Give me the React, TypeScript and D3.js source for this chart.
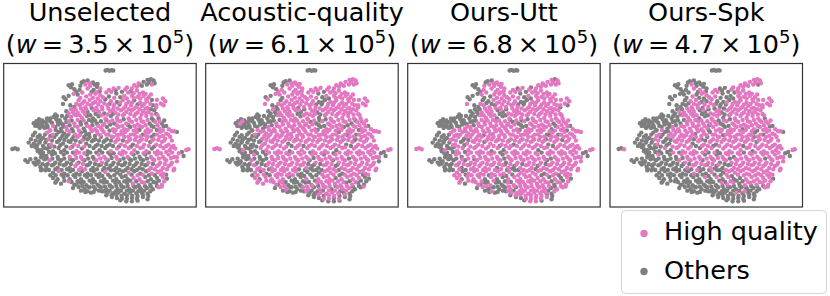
import * as d3 from "d3";

const titles = ["Unselected", "Acoustic-quality", "Ours-Utt", "Ours-Spk"];
const weights = ["3.5", "6.1", "6.8", "4.7"];
const legendLabels = ["High quality", "Others"];
const legendColors = ["#e377c2", "#7f7f7f"];

// t-SNE cloud, one list per band going down the panel
const cloudRows: number[][][] = [
  [[316,46],[322,44],[328,47],[334,45],[339,46]],
  [[250,78],[262,76],[278,82],[292,86],[415,85],[430,80],[442,74],[452,72],[460,76]],
  [[205,90],[215,87],[240,92],[255,88],[270,92],[290,95],[380,97],[395,100],[410,95],[425,92],[440,88],[455,88]],
  [[222,102],[238,104],[262,100],[280,104],[298,108],[340,100],[355,98],[375,103],[392,108],[410,106],[428,112]],
  [[190,126],[205,122],[220,116],[232,118],[270,118],[285,116],[300,120],[318,112],[333,110],[348,115],[372,122],[395,122],[412,125],[430,122],[445,126]],
  [[188,146],[235,135],[252,138],[268,134],[285,140],[300,138],[315,132],[332,138],[350,140],[368,134],[385,140],[402,135],[420,142],[440,138],[455,134],[482,145],[495,138]],
  [[198,168],[222,155],[238,150],[255,156],[272,150],[288,158],[305,155],[322,150],[340,155],[358,148],[375,155],[392,150],[408,155],[425,152],[442,158],[458,150],[490,150]],
  [[205,175],[218,170],[232,172],[248,168],[262,170],[280,165],[296,170],[312,175],[330,168],[345,172],[362,165],[378,170],[395,165],[412,172],[428,168],[445,170],[462,165],[472,180]],
  [[130,200],[145,195],[160,185],[178,195],[195,190],[212,185],[228,180],[245,188],[260,182],[278,190],[295,183],[315,190],[332,182],[350,188],[368,180],[385,190],[402,182],[420,188],[438,182],[455,190],[475,190]],
  [[112,205],[125,208],[140,210],[155,203],[172,200],[188,208],[205,198],[222,205],[240,200],[258,205],[275,198],[290,205],[308,210],[325,200],[342,205],[360,198],[378,205],[395,200],[412,208],[430,200],[448,205],[465,200],[485,205]],
  [[105,212],[118,218],[133,218],[150,225],[165,215],[182,220],[198,215],[215,222],[232,215],[250,220],[268,215],[285,222],[302,218],[320,215],[338,222],[355,215],[372,222],[390,215],[408,222],[425,215],[442,222],[460,215],[478,220],[498,212]],
  [[140,232],[158,238],[175,230],[192,235],[208,230],[225,238],[242,232],[258,238],[275,228],[292,235],[310,230],[325,238],[342,230],[358,238],[375,230],[392,238],[410,230],[428,238],[445,232],[462,238],[480,230],[498,235],[515,228],[530,230]],
  [[98,240],[112,245],[128,248],[145,252],[162,245],[180,250],[198,245],[215,252],[232,245],[250,252],[268,245],[285,252],[302,245],[320,252],[338,245],[355,252],[372,245],[390,252],[408,245],[425,252],[442,245],[460,252],[478,245],[495,250],[510,245]],
  [[85,262],[100,265],[118,258],[135,262],[152,268],[170,260],[188,265],[205,258],[222,268],[240,260],[258,265],[275,258],[292,268],[310,260],[328,268],[345,260],[362,268],[380,260],[398,268],[415,260],[432,268],[450,260],[468,268],[485,260],[505,268],[520,272]],
  [[36,281],[44,279],[52,282],[105,275],[122,285],[140,280],[158,288],[175,278],[192,285],[210,278],[228,288],[245,280],[262,288],[280,278],[298,285],[315,278],[332,288],[350,280],[368,288],[385,278],[402,285],[420,278],[438,288],[455,280],[472,288],[490,278],[508,285],[525,280],[545,290],[558,284],[565,282]],
  [[120,295],[138,302],[155,298],[172,305],[190,298],[208,305],[225,298],[242,305],[260,298],[278,305],[295,298],[312,305],[330,298],[348,305],[365,298],[382,305],[400,298],[418,305],[435,298],[452,305],[470,298],[488,305],[505,298],[522,305],[550,302]],
  [[75,315],[82,320],[100,322],[115,318],[132,312],[148,315],[165,322],[182,315],[200,322],[218,315],[235,322],[252,315],[270,322],[288,315],[305,322],[322,315],[340,322],[358,315],[375,322],[392,315],[410,322],[428,315],[445,322],[462,315],[480,322],[498,315],[515,322],[530,318]],
  [[105,328],[120,335],[138,338],[155,330],[172,338],[190,330],[208,338],[225,332],[242,338],[260,330],[278,338],[295,330],[312,338],[330,332],[348,338],[365,330],[382,338],[400,332],[418,338],[435,330],[452,338],[470,332],[488,338],[505,332],[522,340]],
  [[135,345],[158,352],[175,348],[192,355],[210,348],[228,355],[245,348],[262,355],[280,348],[298,355],[315,350],[332,345],[350,352],[368,348],[385,352],[402,348],[420,355],[438,348],[455,355],[472,350],[490,355],[520,345]],
  [[158,368],[172,372],[190,365],[208,372],[225,365],[242,372],[260,365],[278,372],[295,365],[312,372],[330,365],[348,372],[365,365],[382,372],[400,368],[418,372],[435,365],[452,372],[470,368],[488,365],[500,370]],
  [[165,382],[182,385],[205,378],[222,388],[240,382],[258,390],[275,382],[292,388],[310,382],[328,390],[345,382],[362,388],[380,382],[398,385],[415,390],[432,382],[450,388],[468,382],[485,388]],
  [[218,398],[235,395],[252,402],[268,396],[285,402],[302,396],[318,402],[335,396],[352,402],[370,396],[388,402],[405,396],[422,402],[440,398],[458,402],[475,396]],
  [[255,410],[272,412],[305,408],[322,412],[338,414],[355,412],[372,415],[390,412],[408,414],[425,412],[442,415]],
  [[335,425],[350,428],[365,430],[380,430],[395,428],[410,430],[428,425],[442,432]],
  [[360,435],[378,438],[395,438],[412,436]],
  // second pass, the points that sit between the bands above
  [[212,96],[244,82],[268,84],[283,88],[300,100],[402,90],[418,88],[447,82],[463,84]],
  [[228,110],[246,112],[274,110],[290,112],[326,104],[346,106],[365,110],[384,112],[400,114],[418,116],[436,116],[452,118]],
  [[196,132],[240,128],[258,124],[278,128],[292,130],[308,126],[326,124],[342,128],[360,126],[380,130],[400,128],[420,130],[438,132],[470,134],[488,130]],
  [[210,150],[228,146],[246,144],[262,146],[278,144],[294,148],[312,144],[328,146],[342,148],[360,142],[378,146],[396,142],[412,148],[432,146],[450,146],[468,150]],
  [[170,182],[212,162],[226,162],[242,160],[258,162],[274,158],[290,164],[306,162],[324,160],[338,164],[352,160],[370,160],[386,162],[402,160],[418,162],[436,160],[452,162],[468,156]],
  [[150,190],[165,178],[185,182],[200,182],[222,178],[238,180],[254,176],[270,180],[286,176],[304,180],[322,178],[338,176],[354,178],[372,176],[390,176],[406,176],[424,178],[438,174],[454,178],[468,176]],
  [[120,198],[136,202],[150,198],[168,192],[182,204],[198,200],[214,196],[232,194],[250,196],[266,194],[284,196],[302,198],[318,194],[336,196],[352,196],[370,192],[388,196],[408,194],[424,198],[442,194],[460,196],[478,198],[492,196]],
  [[100,204],[114,212],[128,214],[142,216],[158,212],[174,208],[190,214],[208,210],[224,212],[242,208],[260,212],[276,210],[294,212],[312,206],[330,208],[350,210],[366,212],[384,210],[402,212],[418,212],[436,210],[454,212],[472,210],[490,214]],
  [[148,226],[166,224],[184,228],[200,224],[218,228],[236,226],[254,228],[272,222],[290,228],[306,224],[328,226],[346,224],[364,228],[382,224],[400,226],[418,224],[436,228],[452,226],[470,224],[488,226],[506,222],[522,228]],
  [[104,232],[118,240],[134,238],[150,242],[168,238],[186,242],[204,238],[220,244],[238,240],[252,244],[266,236],[284,242],[300,240],[318,238],[334,244],[350,240],[368,238],[384,244],[402,238],[420,244],[436,240],[454,244],[470,238],[488,242],[504,238]],
  [[92,252],[106,256],[122,252],[138,254],[155,256],[176,256],[192,254],[210,260],[226,256],[246,256],[262,252],[280,254],[296,256],[314,256],[332,256],[350,254],[368,256],[386,256],[404,254],[420,256],[438,254],[456,256],[474,254],[492,256],[515,256]],
  [[94,272],[110,270],[128,272],[146,270],[162,274],[180,270],[198,274],[216,274],[234,272],[252,274],[268,272],[286,272],[304,272],[320,272],[338,272],[356,274],[374,272],[392,274],[410,272],[428,276],[446,272],[462,274],[480,272],[498,272],[514,276]],
  [[112,288],[128,292],[146,290],[164,294],[182,290],[200,292],[218,292],[236,292],[252,294],[270,292],[288,292],[306,292],[324,292],[340,294],[358,294],[376,292],[394,294],[412,292],[430,294],[446,292],[464,292],[482,294],[498,290],[516,292],[536,294]],
  [[90,312],[106,310],[122,306],[140,310],[156,310],[174,312],[192,310],[210,312],[228,308],[246,312],[264,310],[282,312],[300,310],[318,312],[334,308],[352,312],[370,310],[388,312],[404,310],[422,312],[440,310],[458,312],[476,310],[494,312],[512,308],[530,306]],
  [[110,320],[126,326],[142,326],[160,328],[178,326],[196,328],[212,326],[230,326],[248,326],[266,328],[284,326],[302,328],[318,326],[336,328],[354,326],[372,328],[388,326],[406,328],[424,326],[440,328],[458,326],[476,328],[494,326],[512,328]],
  [[124,342],[146,344],[165,342],[184,344],[200,342],[218,344],[236,344],[254,342],[272,344],[290,342],[308,344],[324,340],[342,344],[358,344],[376,344],[394,342],[410,344],[428,342],[446,344],[464,342],[482,346],[500,342]],
  [[150,360],[166,360],[184,358],[202,360],[220,360],[238,358],[254,360],[272,360],[288,358],[306,362],[324,358],[342,360],[360,358],[376,362],[394,358],[412,360],[428,358],[446,360],[464,360],[482,358],[498,358]],
  [[168,378],[192,376],[214,380],[232,378],[250,380],[268,376],[284,380],[302,378],[320,380],[338,376],[356,380],[372,378],[390,376],[408,378],[424,380],[442,378],[460,380],[476,376],[492,378]],
  [[228,388],[246,392],[262,394],[280,394],[296,392],[314,394],[330,392],[348,392],[364,394],[382,392],[400,392],[418,396],[434,392],[452,394],[470,392],[484,394]],
  [[242,406],[262,408],[280,410],[296,406],[312,408],[328,406],[346,408],[362,406],[380,406],[398,406],[414,408],[432,406],[450,408]],
  [[318,420],[334,420],[348,418],[364,422],[380,420],[396,422],[412,422],[428,418],[444,422]],
  [[108,198],[116,192],[126,196],[140,190],[118,262],[132,278],[112,282],[148,276],[128,300],[112,325],[122,345],[136,330]],
];

// p = high quality, g = others, one letter per cloud point in the row
const unselectedMask = [
  "ggggg","ggggpgggg","gggppgpppggp","ggpggpppgpp","ggpgpppppgppppp","gpppppgpgppgppgpp","ggpppppppgpppppgp","ppppgppgppppppppgp",
  "gggggpppgggpgppppppgg","ggggggppggggppgpppppgpg","gggpggpgpgpppgpppgpppgpg","ppggppggpppppppppgpgpppg","gggpggggpgggggppppppppppp",
  "ggggpgggpggggggpppgppgpppp","gggggggggppgggggpppppppgppppgpp","gggggpppggppgpppgggpppppg","gggggpgggggggppgggggggpppppp",
  "gggggggppgggggggggggppppp","ggpgggggggpgggpgggpppp","ggggggggggggggppgggpg","ggpggggggggggpgpggp","gggggggggggggggp","ggggggggggg","gggggggg","gggg",
  "ggpgppggg","gpgppggppppp","gpppppgpgpppppp","gppppppgppppgppp","gppppgppppppppppgp","ggggpppggppgpppppppg","gggggggppggggppgppppgpg",
  "ggggpgggpgpgppgppgpppgpg","pggpgpgpppgppppgppgppp","ggggggggpgggpppppppppgppp","gggggggggpgggggpgpppppppp","ggggggggppggggggpgpppgppp",
  "gggggggppgggggpppgpgppppp","ggggggggppggppgpgggggppppp","gggggggppggggggggggggppp","ggggggppggggggggggpppp","gggggggggggggggppggpg",
  "ggggggggggggggpgggp","gggggggggggggggp","ggggggggggggg","ggggggggg","gggggggggggg",
];
const acousticMask = [
  "ggggg","ggppppppp","gggppppppppp","gpppppppppp","ggpppppppgppppp","pgppppppggppppppp","ggpppgpppgppppppp","ggppppgppgpppppppp",
  "ggggggppppgppgppppppp","pggggggppppppggpppppgpp","ggggggpppppppppgpppgpppg","gpppppppppppppppgppgpppp","gggggppppppppppppppppgppp",
  "ggggggppppgpppppppppgppppp","pppgpggpppppgpppppppgpppppppgpp","ggpggpppppppppgpppppppppg","gggggpggpppppppgpppgpppppppg",
  "gggppgpppppppggppgppppppp","gpggpppppggggpppgppppp","pgppppgggpgpppgppppgg","pppppgggggpppppgpgg","gppggppgppgpppgg","gggggppppgg","ggppgpgg","gggg",
  "ggppppppp","ppppppgppppp","pgppppppggppppp","gpppppppggpppppp","gpgppppgpppppppppp","gggggpppgpppgppppppp","pgggggggppppppggppppgpp",
  "ggggggggpppppppggpppgppp","gppppppppppgppppppgppp","gggggpppppppppppppppgpppp","ggggggpppppgpppppppppgppp","gggggpppppgpgpppppppgpppp",
  "gggggpppppppgpppgpppppppg","gggggggpppppppgpppppgppppp","gggggpppppppgggppgpppppp","ggppgppppgggggppgppppp","gppgppppggggpppgpppgp",
  "ppppggggggpppppgpgg","gpgggppgppgppggp","ggggpgggppgpg","ggpgppgpg","gggggggggggg",
];
const uttMask = [
  "ggggg","ggpppppgp","ggppppgppppp","gppppgppppp","gggppppppgppppp","pggpppppggppppppp","ggppgppppgppppppg","ggpppggppppppppppp",
  "ggggggpppggpppppppppp","gggggggppppppggpppppgpp","gggpgppppppppppgppppgppg","pppppppppppppppppgpgpppp","gggppgpppppppppppppgppppp",
  "ggggpgpppgppppgpppppgppppp","pppgpgppppppgpgpppppgpppppppgpp","ggpgppppppgpppppppppppppg","ggggggpgppppppgppppppgpppppp",
  "gggpgpppppgppgpppgppppppp","gpgppppppppgppppgppppp","pgpppgpggpppppppgpgpg","pgppgpggppppppppgpp","gpggggpgpppppgpp","gggpppppppg","ggpppppg","gppg",
  "ggppppppp","gpppppgppppp","gggpppppggppppp","gpggppppggpppppp","gggppppgpppppppppg","gggggpppggpppppppppp","gggggggpppppgpggppppppp",
  "ggggggpgpppppppggppppgpp","pppppppppppgpppppppgpp","gggpppppgpppppppppppgpppp","gggppggppppppgppppppppgpp","gggppgpppppgppppppppgpppp",
  "gggpgpppppgppppppgppppppg","gggggppgppppgpppppppgppppp","ggggpgpppppgppgpppgppppp","ggpgppppppgggppgpppppp","ppgpppgppggppppgppgpp",
  "ppppgpgggppppppgpgp","gpgggppppppppgpp","gpggpgpppppgp","gppppppgg","gggggggggggg",
];
const spkMask = [
  "ggggg","ggggppppp","gggpggpppppg","ggppgggpppp","gggggppppggpppp","ggppggpgggppppppp","gggppgppggppppppp","gppppggppgpppppppp",
  "ggggggpppggppgppppppg","ggggggggppppgpgpppppppp","ggggggpppppppppgppgppppg","gpgpppppppgpppppppgppppg","gggpggpppppggpppppppgpppp",
  "ggggpggpppgpppgppppppgpppp","ggpggggpgppppgppgpppppgpppppgpp","ggpgggppppgpgppgppppppppg","gggggggggppppgppgppppppppppp",
  "ggggggggppgppgggppppppppp","gggggggpggpggppppppppp","ggggggggpgpgpggpppppg","ggggggggggpppgppppp","gggggggggggggggp","gggggggpggg","gggggggg","gggg",
  "gggggpppp","gggppgggpppp","ggpggppgggppppp","gggppppggppppppp","gggppppggpgppppppp","gggggpppggppgppppppp","ggggggggpppppgpgppppppp",
  "ggggggggpppppppggppppppg","gpgppppppgpppppppgpppp","gggpgpppppgppppgppppppgpp","ggggpggpppgpgpppppppppppp","ggggggppppgppgppppgpppppp",
  "gggggpgppppgpgpppgppppppg","gggggggggppppgppgpppppgppp","gggggggggppgppggpppppppp","ggggggggpggggppppppppp","ggggggggggggpgppppppp",
  "gggggggggggpggppppp","gggggggggggggggp","ggggggggggpgg","ggggggggg","gggggggggggg",
];
const masks = [unselectedMask, acousticMask, uttMask, spkMask];

const fontFamily = "'DejaVu Sans', sans-serif";
const panelLefts = [3.7, 205.7, 407.7, 610];
const panelWidth = 192.5;
const panelTop = 63.5;
const panelHeight = 143.5;

function Panel({ index }: { index: number }) {
  const left = panelLefts[index];
  const x = d3.scaleLinear().domain([10, 588]).range([left, left + panelWidth]);
  const y = d3.scaleLinear().domain([25, 455]).range([panelTop, panelTop + panelHeight]);
  const mask = masks[index];
  const points = cloudRows.flatMap((row, r) =>
    row.map((p, i) => ({ x: p[0], y: p[1], high: mask[r][i] === "p" }))
  );
  // others go underneath, high quality on top
  const ordered = d3.sort(points, (d) => (d.high ? 1 : 0));
  const centre = left + panelWidth / 2;
  return (
    <g>
      <text x={centre} y={21} textAnchor="middle" fontSize={25.5}>{titles[index]}</text>
      <text x={centre} y={53} textAnchor="middle" fontSize={25.5}>
        (<tspan fontStyle="italic">w</tspan>{"\u2009=\u2009"}{weights[index]}{"\u2009×\u2009"}10
        <tspan dy={-10} fontSize={18}>5</tspan>
        <tspan dy={10}>)</tspan>
      </text>
      <rect x={left} y={panelTop} width={panelWidth} height={panelHeight} fill="white" stroke="#333" strokeWidth={1.2} />
      {ordered.map((d, i) => (
        <circle key={i} cx={x(d.x)} cy={y(d.y)} r={2.2} fill={d.high ? legendColors[0] : legendColors[1]} />
      ))}
    </g>
  );
}

export default function App() {
  return (
    <svg width={830} height={296} fontFamily={fontFamily} fill="#000" style={{ position: "absolute", left: 0, top: 0 }}>
      {titles.map((_, i) => <Panel key={i} index={i} />)}
      <rect x={621.5} y={210.5} width={205} height={83} rx={4} fill="white" stroke="#d5d5d5" strokeWidth={1} />
      {legendLabels.map((label, i) => (
        <g key={label}>
          <circle cx={644} cy={233.5 + i * 38} r={3.7} fill={legendColors[i]} />
          <text x={664} y={240 + i * 38.5} fontSize={25.5}>{label}</text>
        </g>
      ))}
    </svg>
  );
}
